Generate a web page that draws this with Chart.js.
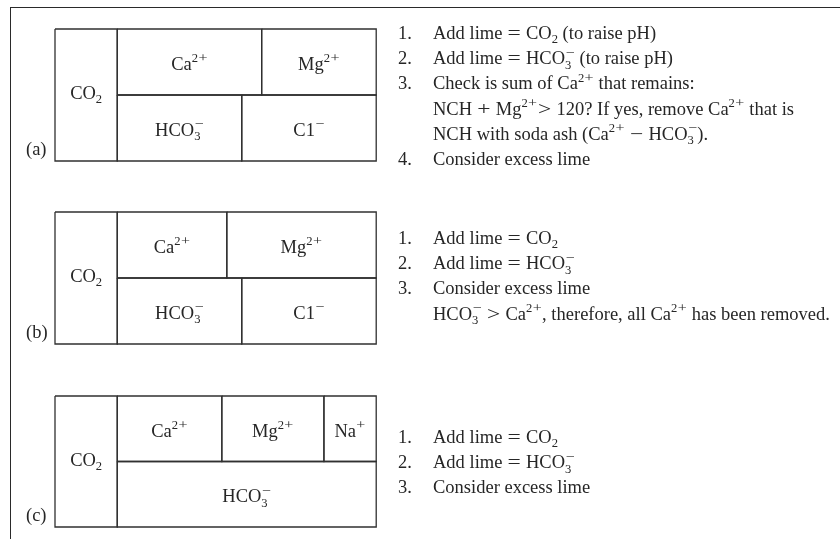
<!DOCTYPE html>
<html><head><meta charset="utf-8">
<script src="https://cdn.jsdelivr.net/npm/chart.js@4.4.1/dist/chart.umd.min.js"></script>
<style>
html,body{margin:0;padding:0;background:#fff;}
#wrap{position:relative;width:840px;height:539px;overflow:hidden;}
#frame{position:absolute;left:10px;top:7px;width:900px;height:600px;border-top:1.6px solid #2a2a2a;border-left:1.6px solid #2a2a2a;box-sizing:border-box;}
canvas{position:absolute;left:0;top:0;}
</style></head><body>
<div id="wrap"><div id="frame"></div><canvas id="c" width="840" height="539"></canvas></div>
<script>
// ---- Data (milliequivalents per litre) ----
const panelLabels = ['(a)', '(b)', '(c)'];
const co2Values  = [1.25, 1.25, 1.25];
const caValues   = [2.9, 2.2, 2.1];
const mgValues   = [2.3, 3.0, 2.05];
const naValues   = [0, 0, 1.05];
const hco3Values = [2.5, 2.5, 5.2];
const clValues   = [2.7, 2.7, 0];
const co2Name = 'CO_{2}';
const cationNames = ['Ca^{2+}', 'Mg^{2+}', 'Na^{+}'];
const anionNames  = ['HCO_{3}^{−}', 'C1^{−}'];
const notesA = [
  ['1.', 'Add lime = CO_{2} (to raise pH)'],
  ['2.', 'Add lime = HCO_{3}^{−} (to raise pH)'],
  ['3.', 'Check is sum of Ca^{2+} that remains:'],
  ['',   'NCH + Mg^{2+}> 120? If yes, remove Ca^{2+} that is'],
  ['',   'NCH with soda ash (Ca^{2+} − HCO_{3}^{−}).'],
  ['4.', 'Consider excess lime']
];
const notesB = [
  ['1.', 'Add lime = CO_{2}'],
  ['2.', 'Add lime = HCO_{3}^{−}'],
  ['3.', 'Consider excess lime'],
  ['',   'HCO_{3}^{−} > Ca^{2+}, therefore, all Ca^{2+} has been removed.']
];
const notesC = [
  ['1.', 'Add lime = CO_{2}'],
  ['2.', 'Add lime = HCO_{3}^{−}'],
  ['3.', 'Consider excess lime']
];
const notesAll = [notesA, notesB, notesC];

// ---- Layout (positions / styles only) ----
const L = {
  W: 840, H: 539,
  pxPerUnit: 49.8, boxLeft: 55,
  panelTops: [29, 212, 396], rowH: [66, 66, 65.5],
  noteNumX: 398, noteTextX: 433, noteBase: [39, 244, 443], noteLineH: 25.2,
  fs: 18.5, color: '#262626', line: '#303030', lw: 1.3
};
const FONT = s => `${s}px "Liberation Serif", "Times New Roman", Times, serif`;
const OPS = '=+−>';
const OP_EM = 0.778;

// width / draw of a plain run, with math-width operators
function runWidth(ctx, s, size) {
  ctx.font = FONT(size); let w = 0;
  for (const ch of s) w += OPS.includes(ch) ? OP_EM * size : ctx.measureText(ch).width;
  return w;
}
function runDraw(ctx, s, x, y, size) {
  ctx.font = FONT(size);
  for (const ch of s) {
    if (OPS.includes(ch)) {
      const nat = ctx.measureText(ch).width, tw = OP_EM * size, sx = tw / nat * 0.92;
      ctx.save(); ctx.translate(x + tw / 2, y); ctx.scale(sx, 1);
      ctx.fillText(ch, -nat / 2, 0); ctx.restore();
      x += tw;
    } else { ctx.fillText(ch, x, y); x += ctx.measureText(ch).width; }
  }
  return x;
}
function parseRich(s) {
  const re = /_\{([^}]*)\}\^\{([^}]*)\}|_\{([^}]*)\}|\^\{([^}]*)\}|([^_^]+)/g;
  const out = []; let m;
  while ((m = re.exec(s)) !== null) {
    if (m[1] !== undefined) out.push({k: 'ss', sub: m[1], sup: m[2]});
    else if (m[3] !== undefined) out.push({k: 'sub', t: m[3]});
    else if (m[4] !== undefined) out.push({k: 'sup', t: m[4]});
    else out.push({k: 'n', t: m[5]});
  }
  return out;
}
function richWidth(ctx, toks, fs) {
  let w = 0; const sm = fs * 0.68;
  for (const t of toks) {
    if (t.k === 'n') w += runWidth(ctx, t.t, fs);
    else if (t.k === 'ss') w += Math.max(runWidth(ctx, t.sub, sm), runWidth(ctx, t.sup, sm));
    else w += runWidth(ctx, t.t, sm);
  }
  return w;
}
function drawRich(ctx, s, x, y, align) {
  const fs = L.fs, sm = fs * 0.68, supDy = -fs * 0.41, subDy = fs * 0.24;
  const toks = parseRich(s);
  if (align === 'center') x -= richWidth(ctx, toks, fs) / 2;
  ctx.fillStyle = L.color; ctx.textBaseline = 'alphabetic'; ctx.textAlign = 'left';
  for (const t of toks) {
    if (t.k === 'n') x = runDraw(ctx, t.t, x, y, fs);
    else if (t.k === 'sup') x = runDraw(ctx, t.t, x, y + supDy, sm);
    else if (t.k === 'sub') x = runDraw(ctx, t.t, x, y + subDy, sm);
    else {
      const a = runDraw(ctx, t.sub, x, y + subDy, sm);
      const b = runDraw(ctx, t.sup, x, y + supDy, sm);
      x = Math.max(a, b);
    }
  }
}

// ---- Build cells from the data ----
const cells = [];
panelLabels.forEach((p, i) => {
  const top = L.panelTops[i], h = L.rowH[i];
  const rows = [[top, top + h], [top + h, top + 2 * h]];
  cells.push({name: co2Name, x0: 0, x1: co2Values[i], y0: top, y1: top + 2 * h, co2: true});
  let x = co2Values[i];
  [caValues[i], mgValues[i], naValues[i]].forEach((v, j) => {
    if (v > 0) { cells.push({name: cationNames[j], x0: x, x1: x + v, y0: rows[0][0], y1: rows[0][1]}); x += v; }
  });
  x = co2Values[i];
  [hco3Values[i], clValues[i]].forEach((v, j) => {
    if (v > 0) { cells.push({name: anionNames[j], x0: x, x1: x + v, y0: rows[1][0], y1: rows[1][1]}); x += v; }
  });
});

const datasets = cells.map(c => ({
  label: c.name,
  data: [{x: c.x0, y: c.y0}, {x: c.x1, y: c.y0}, {x: c.x1, y: c.y1}, {x: c.x0, y: c.y1}, {x: c.x0, y: c.y0}],
  showLine: true, fill: false, tension: 0, pointRadius: 0, pointHoverRadius: 0,
  borderColor: L.line, borderWidth: L.lw, borderJoinStyle: 'miter', clip: false
}));

const labelPlugin = {
  id: 'labels',
  afterDatasetsDraw(chart) {
    const ctx = chart.ctx, xs = chart.scales.x, ys = chart.scales.y;
    ctx.save();
    cells.forEach(c => {
      const cx = (xs.getPixelForValue(c.x0) + xs.getPixelForValue(c.x1)) / 2;
      const cy = (ys.getPixelForValue(c.y0) + ys.getPixelForValue(c.y1)) / 2;
      drawRich(ctx, c.name, cx, cy + (c.co2 ? 4 : 8), 'center');
    });
    panelLabels.forEach((p, i) => {
      const bottom = L.panelTops[i] + 2 * L.rowH[i];
      drawRich(ctx, p, 26, ys.getPixelForValue(bottom) - 6, 'left');
    });
    notesAll.forEach((lines, i) => {
      lines.forEach((ln, k) => {
        const y = L.noteBase[i] + k * L.noteLineH;
        if (ln[0]) drawRich(ctx, ln[0], L.noteNumX, y, 'left');
        drawRich(ctx, ln[1], L.noteTextX, y, 'left');
      });
    });
    ctx.restore();
  }
};

new Chart(document.getElementById('c'), {
  type: 'scatter',
  data: { datasets },
  options: {
    responsive: false, animation: false, events: [],
    layout: { padding: 0 },
    plugins: { legend: { display: false }, tooltip: { enabled: false } },
    scales: {
      x: { type: 'linear', display: false, min: -L.boxLeft / L.pxPerUnit, max: (L.W - L.boxLeft) / L.pxPerUnit },
      y: { type: 'linear', display: false, min: 0, max: L.H, reverse: true }
    }
  },
  plugins: [labelPlugin]
});
</script>
</body></html>
